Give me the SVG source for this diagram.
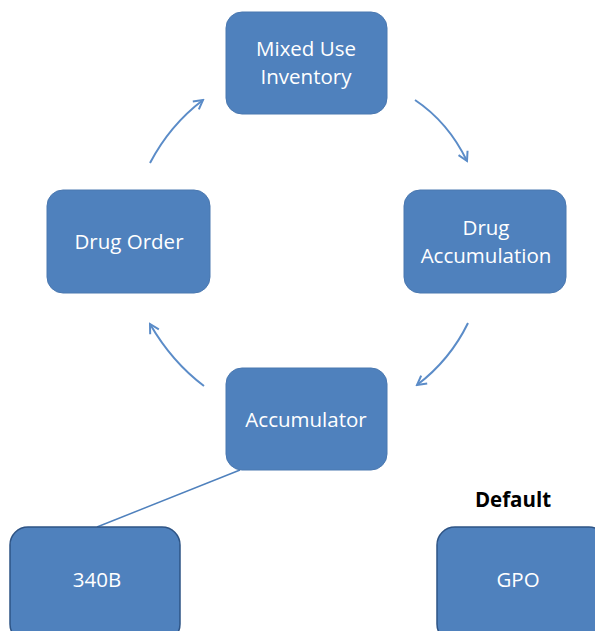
<svg xmlns="http://www.w3.org/2000/svg" width="595" height="631" viewBox="0 0 595 631">
<style>
.box{fill:#4F81BD;stroke:#4A78B0;stroke-width:1}
.box2{fill:#4F81BD;stroke:#2E5485;stroke-width:1.5}
.lbl{font-family:"Open Sans","Liberation Sans",sans-serif;font-size:20.5px;fill:#FFFFFF;text-anchor:middle}
.arc{fill:none;stroke:#5B8CC8;stroke-width:2;marker-end:url(#ah)}
</style>
<defs>
<marker id="ah" viewBox="0 0 12 12" refX="10" refY="6" markerWidth="12" markerHeight="12" markerUnits="userSpaceOnUse" orient="auto">
<path d="M1,1 L10,6 L1,11" fill="none" stroke="#5B8CC8" stroke-width="2"/>
</marker>
</defs>
<rect width="595" height="631" fill="#FFFFFF"/>
<g id="connectors">
<path class="arc" d="M150,163 Q170,125 203,100"/>
<path class="arc" d="M415,100 Q448,122 467,161"/>
<path class="arc" d="M468,323 Q450,360 417,385"/>
<path class="arc" d="M204,386 Q172,362 150,324"/>
<line x1="240" y1="470" x2="97" y2="527" stroke="#4F81BD" stroke-width="1.5"/>
</g>
<g id="mixed-use-inventory">
<rect class="box" x="226" y="12" width="161" height="102" rx="16"/>
<text class="lbl" x="306" y="56">Mixed Use</text>
<text class="lbl" x="306" y="84">Inventory</text>
</g>
<g id="drug-accumulation">
<rect class="box" x="404" y="190" width="162" height="103" rx="16"/>
<text class="lbl" x="486" y="235">Drug</text>
<text class="lbl" x="486" y="263">Accumulation</text>
</g>
<g id="drug-order">
<rect class="box" x="47" y="190" width="163" height="103" rx="16"/>
<text class="lbl" x="129" y="249">Drug Order</text>
</g>
<g id="accumulator">
<rect class="box" x="226" y="368" width="161" height="102" rx="16"/>
<text class="lbl" x="306" y="427">Accumulator</text>
</g>
<g id="n340b">
<rect class="box2" x="10" y="527" width="170" height="115" rx="18"/>
<text class="lbl" x="97" y="587">340B</text>
</g>
<g id="gpo">
<rect class="box2" x="437" y="527" width="170" height="115" rx="18"/>
<text class="lbl" x="518" y="587">GPO</text>
</g>
<g id="default-label">
<text x="513" y="507" font-family="Open Sans, Liberation Sans, sans-serif" font-size="20.5" font-weight="bold" fill="#000000" text-anchor="middle">Default</text>
</g>
</svg>
